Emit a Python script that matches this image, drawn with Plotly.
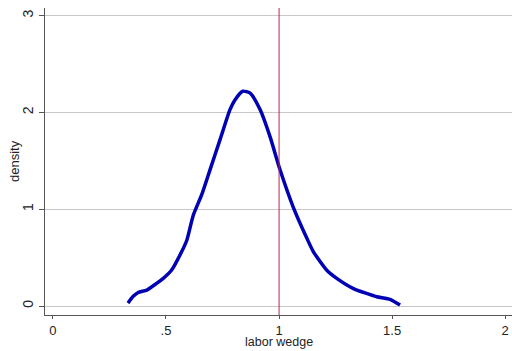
import plotly.graph_objects as go

# density curve
wedge = [0.332, 0.355, 0.377, 0.415, 0.45, 0.488, 0.525, 0.569, 0.592, 0.621, 0.658, 0.695,
         0.739, 0.783, 0.805, 0.839, 0.872, 0.916, 0.96, 1.004, 1.063, 1.123, 1.152,
         1.211, 1.255, 1.329, 1.38, 1.432, 1.491, 1.535]
density = [0.03, 0.10, 0.14, 0.165, 0.22, 0.286, 0.372, 0.56, 0.68, 0.94, 1.15, 1.41,
           1.72, 2.03, 2.13, 2.22, 2.20, 2.03, 1.75, 1.41, 1.02, 0.70, 0.56,
           0.37, 0.286, 0.18, 0.135, 0.096, 0.069, 0.01]
ref_x = 1.0
x_ticks = [0, 0.5, 1, 1.5, 2]
x_labels = ["0", ".5", "1", "1.5", "2"]
y_ticks = [0, 1, 2, 3]
y_labels = ["0", "1", "2", "3"]
x_title = "labor wedge"
y_title = "density"

fig = go.Figure()
fig.add_trace(go.Scatter(x=wedge, y=density, mode="lines",
                         line=dict(color="#0000b4", width=3.5, shape="spline", smoothing=0.6),
                         showlegend=False, hoverinfo="skip"))
fig.add_vline(x=ref_x, line=dict(color="#c0244c", width=1))

fig.update_layout(
    width=512, height=351,
    margin=dict(l=45, r=0, t=8, b=36),
    paper_bgcolor="white", plot_bgcolor="white",
    font=dict(family="Liberation Sans, Arial", size=14, color="#222"),
)
fig.add_annotation(text=x_title, xref="paper", yref="paper", x=(279 - 45) / 467, y=0,
                   yshift=-36, xanchor="center", yanchor="bottom", showarrow=False,
                   font=dict(size=12.5, color="#222"))
fig.add_annotation(text=y_title, xref="paper", yref="paper", x=0, y=(315 - 161) / 307,
                   xshift=-31, textangle=-90, xanchor="center", yanchor="middle", showarrow=False,
                   font=dict(size=13, color="#222"))
fig.update_xaxes(range=[-0.035, 2.03], tickvals=x_ticks, ticktext=x_labels, ticks="outside", ticklen=3,
                 tickcolor="#555", showline=True, linecolor="#555", linewidth=1, showgrid=False, zeroline=False,
                 automargin=False, tickfont=dict(size=13))
fig.update_yaxes(range=[-0.093, 3.08], tickvals=y_ticks, ticktext=y_labels, ticks="outside", ticklen=5,
                 tickcolor="#555", showline=True, linecolor="#555", linewidth=1, showgrid=True, gridcolor="#c8c8c8",
                 gridwidth=1, zeroline=False, tickangle=-90, automargin=False, tickfont=dict(size=14))
fig.write_html("out.html", config={"displayModeBar": False},
               post_script="document.body.style.margin='0';")
